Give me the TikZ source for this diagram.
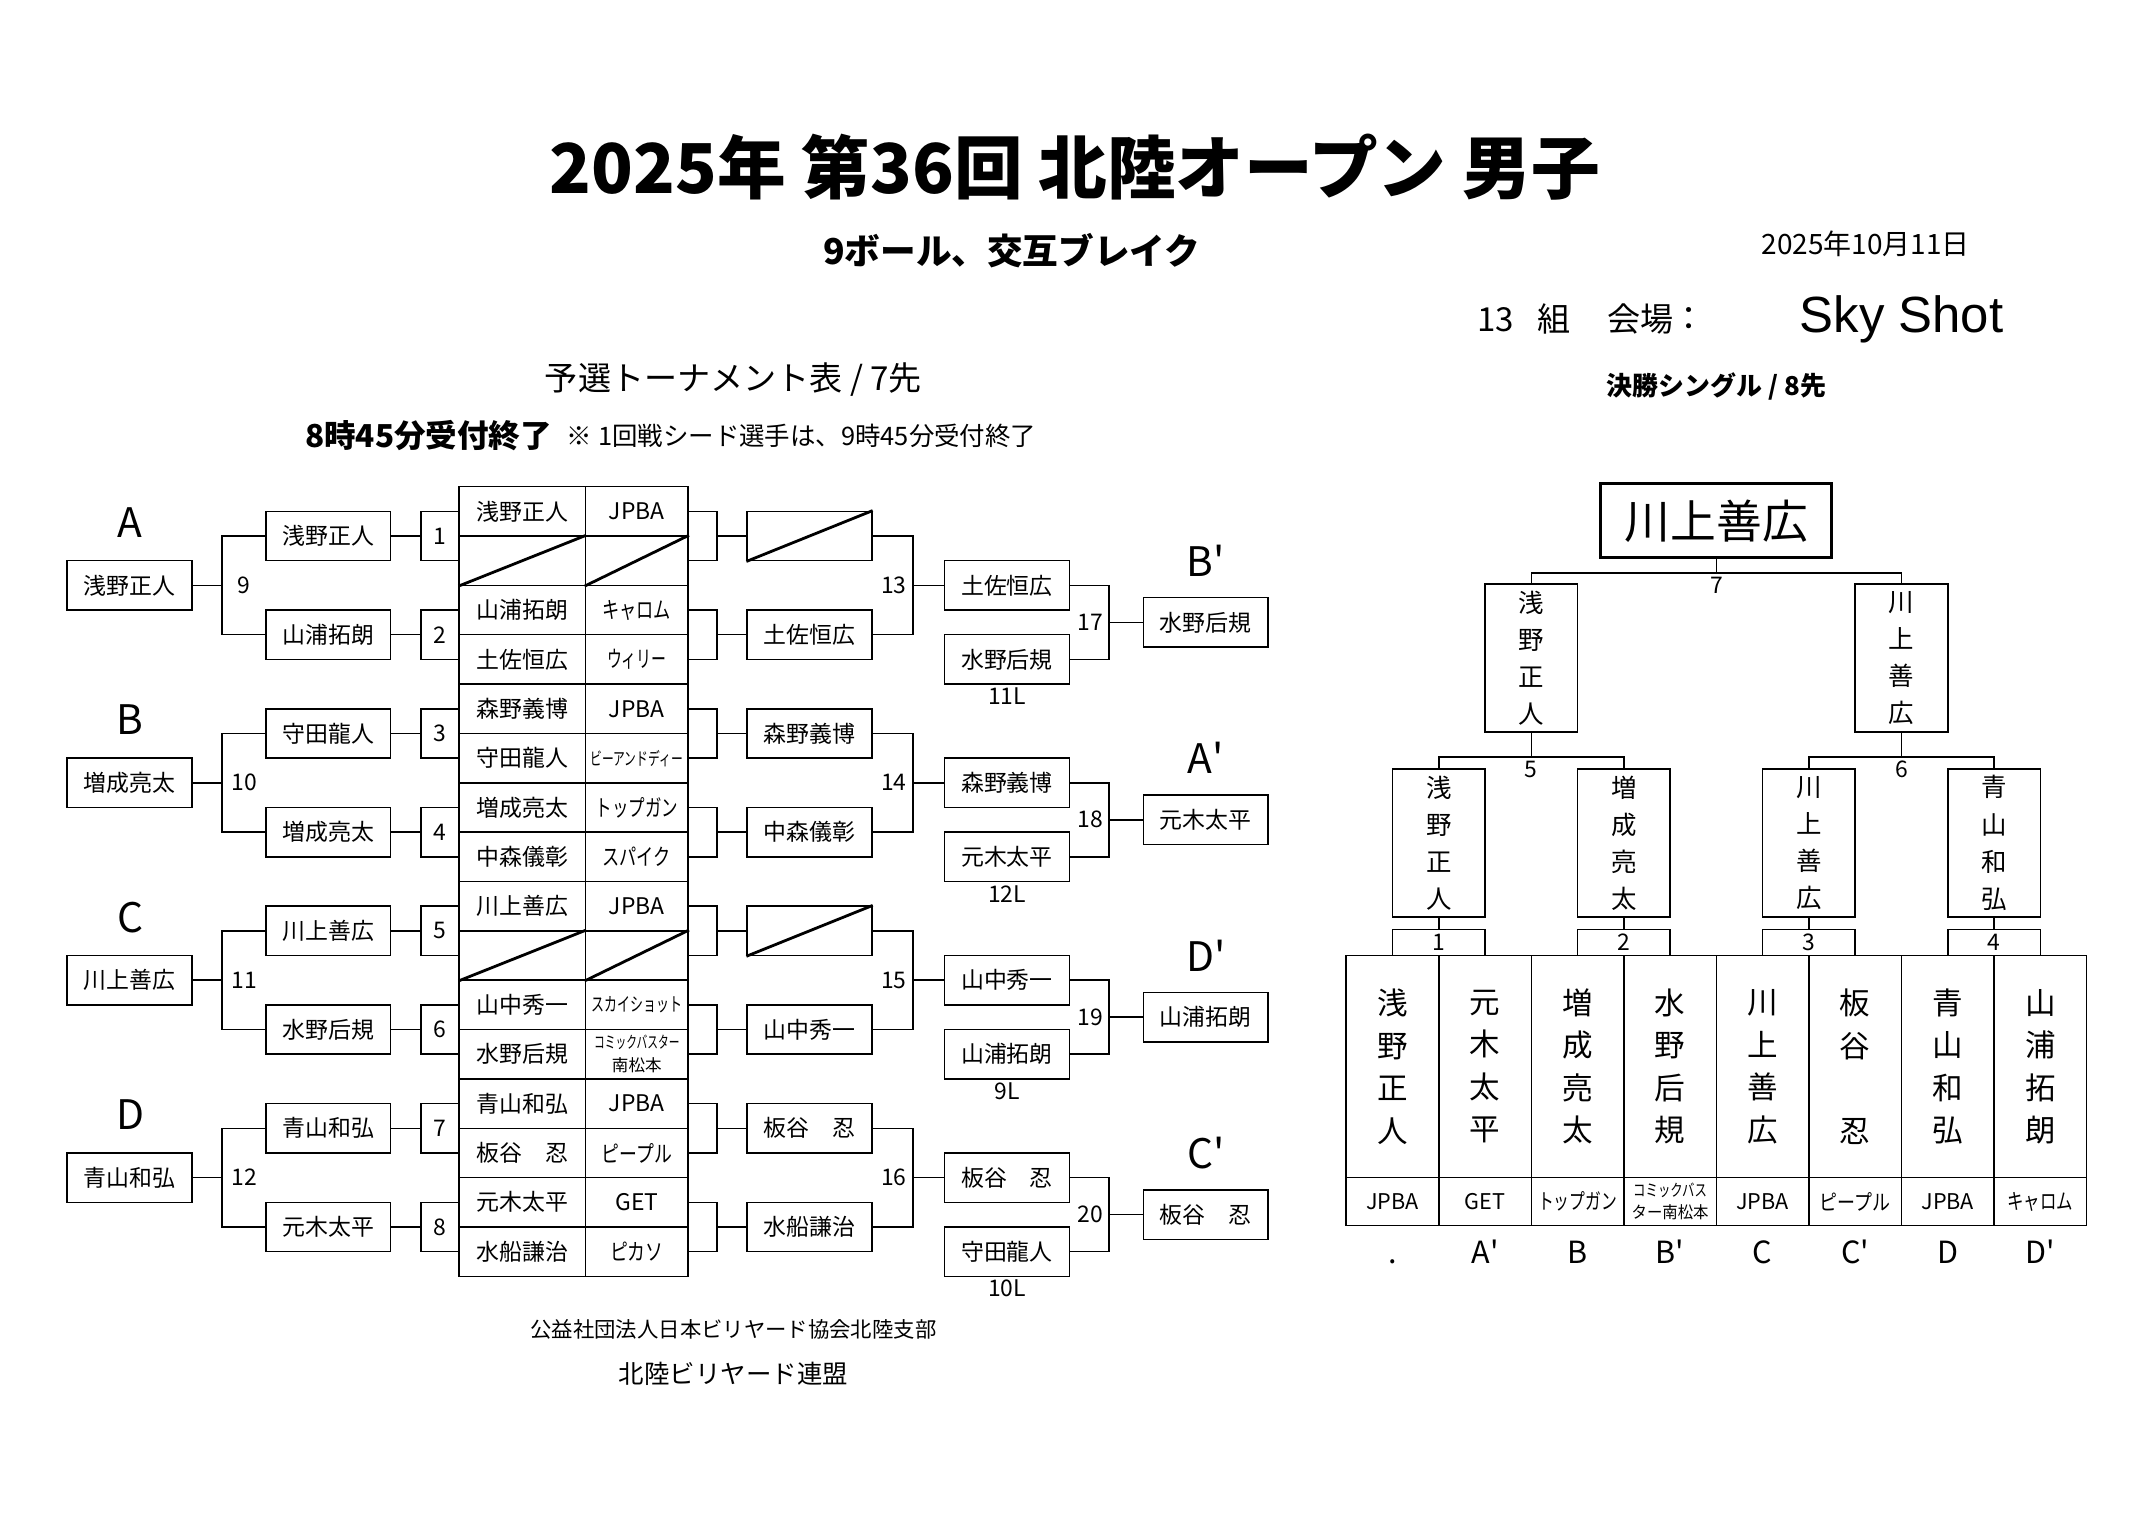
\documentclass[tikz,border=0pt]{standalone}
\usepackage{fontspec}
\usepackage{graphicx}
\setmainfont{Noto Sans CJK JP}
\newfontfamily\skyfont{Liberation Sans}
\newdimen\pxd \pxd=0.018938cm
\newcommand\fs[1]{\fontsize{#1}{#1}\selectfont}
\newcommand\sq[2]{\scalebox{#1}[1]{#2}}
\tikzset{
  pbox/.style={draw, line width=0.6pt, minimum width=91\pxd, minimum height=36\pxd, inner sep=0pt, font=\fs{9}},
  nbox/.style={draw, line width=0.6pt, minimum width=28\pxd, minimum height=36\pxd, inner sep=0pt, font=\fs{9}},
  ncell/.style={draw, line width=0.6pt, minimum width=92\pxd, minimum height=36\pxd, inner sep=0pt, font=\fs{9}},
  acell/.style={draw, line width=0.6pt, minimum width=75\pxd, minimum height=36\pxd, inner sep=0pt, font=\fs{9}, align=center},
  num/.style={inner sep=0pt, font=\fs{9}},
  grp/.style={inner sep=0pt, font=\fs{16}},
  vbox/.style={draw, line width=0.6pt, minimum width=67.5\pxd, minimum height=108\pxd, inner sep=0pt, align=center, font=\fontsize{10}{14.6}\selectfont},
  fcell/.style={draw, line width=0.6pt, minimum width=67.5\pxd, minimum height=162\pxd, inner sep=0pt, align=center, font=\fontsize{12}{16.7}\selectfont},
  facell/.style={draw, line width=0.6pt, minimum width=67.5\pxd, minimum height=35\pxd, inner sep=0pt, align=center, font=\fs{8.5}},
  qnum/.style={draw, line width=0.6pt, minimum width=67.5\pxd, minimum height=19\pxd, inner sep=0pt, font=\fs{9}},
  flab/.style={inner sep=0pt, font=\fs{12}, anchor=base},
  slash/.style={line width=1.1pt},
  txt/.style={inner sep=0pt},
}
\begin{document}
\begin{tikzpicture}[x=0.018938cm, y=-0.018938cm, line width=0.6pt]
\fill[white] (0,0) rectangle (1568.3,1107.3);
\useasboundingbox (0,0) rectangle (1568.3,1107.3);

% ---------- header ----------
\node[txt, font=\fs{27}\bfseries] (title) at (784,122) {2025年 第36回 北陸オープン 男子};
\node[txt, font=\fs{14}\bfseries] (sub) at (738,183) {9ボール、交互ブレイク};
\node[txt, font=\fs{11}] (date) at (1361,178) {2025年10月11日};
\node[txt, font=\fs{13}] (grpno) at (1091,233) {13};
\node[txt, font=\fs{13}] (kumi) at (1133.5,233) {組};
\node[txt, font=\fs{13}] (kaijo) at (1196.5,233) {会場};
\node[txt, font=\fs{13}] (colon) at (1232,233) {：};
\node[txt, font=\skyfont\fs{20}] (sky) at (1387,233) {Sky Shot};
\node[txt, font=\fs{13}] (yosen) at (535,277) {予選トーナメント表 / 7先};
\node[txt, font=\fs{12.4}\bfseries, anchor=west] (uketsuke) at (222,318) {8時45分受付終了};
\node[txt, font=\fs{10}, anchor=west] (note) at (413,318) {※ 1回戦シード選手は、9時45分受付終了};
\node[txt, font=\fs{10.2}\bfseries] (kessho) at (1252,282) {決勝シングル / 8先};
\node[txt, font=\fs{8.4}] (org1) at (535,970) {公益社団法人日本ビリヤード協会北陸支部};
\node[txt, font=\fs{10}] (org2) at (535,1002) {北陸ビリヤード連盟};

% ---------- left groups ----------
\foreach \k/\lt/\nm in {0/A/浅野正人,1/B/増成亮太,2/C/川上善広,3/D/青山和弘}{
  \node[grp] (g\k) at (95,381+144*\k) {\lt};
  \node[pbox] (L\k) at (94.5,427+144*\k) {\nm};
  \pgfmathtruncatemacro\na{9+\k}
  \node[num] (m\k) at (178,427+144*\k) {\na};
}
\foreach \i/\nm in {0/浅野正人,1/山浦拓朗,2/守田龍人,3/増成亮太,4/川上善広,5/水野后規,6/青山和弘,7/元木太平}{
  \node[pbox] (ra\i) at (239.5,391+72*\i) {\nm};
  \pgfmathtruncatemacro\nn{\i+1}
  \node[nbox] (n\i) at (321,391+72*\i) {\nn};
  \draw (ra\i.east) -- (n\i.west);
}
\foreach \k in {0,...,3}{
  \pgfmathtruncatemacro\ia{2*\k}
  \pgfmathtruncatemacro\ib{2*\k+1}
  \coordinate (lb\k) at (162,427+144*\k);
  \draw (L\k.east) -- (lb\k);
  \draw (ra\ia.west) -| (lb\k) |- (ra\ib.west);
}

% ---------- entry table ----------
\node[ncell] (tn0) at (381,373) {浅野正人};   \node[acell] (ta0) at (464.5,373) {JPBA};
\node[ncell] (tn1) at (381,409) {};           \node[acell] (ta1) at (464.5,409) {};
\node[ncell] (tn2) at (381,445) {山浦拓朗};   \node[acell] (ta2) at (464.5,445) {\sq{0.75}{キャロム}};
\node[ncell] (tn3) at (381,481) {土佐恒広};   \node[acell] (ta3) at (464.5,481) {\sq{0.65}{ウィリー}};
\node[ncell] (tn4) at (381,517) {森野義博};   \node[acell] (ta4) at (464.5,517) {JPBA};
\node[ncell] (tn5) at (381,553) {守田龍人};   \node[acell] (ta5) at (464.5,553) {\fs{7}\sq{0.66}{ビーアンドディー}};
\node[ncell] (tn6) at (381,589) {増成亮太};   \node[acell] (ta6) at (464.5,589) {\sq{0.72}{トップガン}};
\node[ncell] (tn7) at (381,625) {中森儀彰};   \node[acell] (ta7) at (464.5,625) {\sq{0.75}{スパイク}};
\node[ncell] (tn8) at (381,661) {川上善広};   \node[acell] (ta8) at (464.5,661) {JPBA};
\node[ncell] (tn9) at (381,697) {};           \node[acell] (ta9) at (464.5,697) {};
\node[ncell] (tn10) at (381,733) {山中秀一};  \node[acell] (ta10) at (464.5,733) {\fs{7.5}\sq{0.68}{スカイショット}};
\node[ncell] (tn11) at (381,769) {水野后規};  \node[acell, font=\fontsize{6.5}{9}\selectfont] (ta11) at (464.5,769) {\sq{0.65}{コミックバスター}\\南松本};
\node[ncell] (tn12) at (381,805) {青山和弘};  \node[acell] (ta12) at (464.5,805) {JPBA};
\node[ncell] (tn13) at (381,841) {板谷　忍};  \node[acell] (ta13) at (464.5,841) {\sq{0.78}{ピープル}};
\node[ncell] (tn14) at (381,877) {元木太平};  \node[acell] (ta14) at (464.5,877) {GET};
\node[ncell] (tn15) at (381,913) {水船謙治};  \node[acell] (ta15) at (464.5,913) {\sq{0.78}{ピカソ}};
\foreach \r in {1,9}{
  \draw[slash] (tn\r.south west) -- (tn\r.north east);
  \draw[slash] (ta\r.south west) -- (ta\r.north east);
}

% ---------- round 2 ----------
\foreach \p/\nm in {0/{},1/土佐恒広,2/森野義博,3/中森儀彰,4/{},5/山中秀一,6/板谷　忍,7/水船謙治}{
  \node[pbox] (sb\p) at (590.5,391+72*\p) {\nm};
}
\draw[slash] (sb0.south west) -- (sb0.north east);
\draw[slash] (sb4.south west) -- (sb4.north east);
\foreach \p in {0,...,7}{
  \pgfmathtruncatemacro\ia{2*\p}
  \pgfmathtruncatemacro\ib{2*\p+1}
  \coordinate (rb\p) at (523,391+72*\p);
  \draw (ta\ia.east) -| (rb\p) |- (ta\ib.east);
  \draw (rb\p) -- (sb\p.west);
}

% ---------- round 3 ----------
\foreach \k/\wa/\wb/\ls in {0/土佐恒広/水野后規/11L,1/森野義博/元木太平/12L,2/山中秀一/山浦拓朗/9L,3/板谷　忍/守田龍人/10L}{
  \node[pbox] (tc\k) at (734.5,427+144*\k) {\wa};
  \node[pbox] (td\k) at (734.5,481+144*\k) {\wb};
  \node[num] (ll\k) at (734.5,508+144*\k) {\ls};
  \pgfmathtruncatemacro\ia{2*\k}
  \pgfmathtruncatemacro\ib{2*\k+1}
  \coordinate (rc\k) at (666,427+144*\k);
  \draw (sb\ia.east) -| (rc\k) |- (sb\ib.east);
  \draw (rc\k) -- (tc\k.west);
  \pgfmathtruncatemacro\nb{13+\k}
  \node[num] (mc\k) at (652,427+144*\k) {\nb};
}

% ---------- qualifiers ----------
\foreach \k/\fn/\fl in {0/水野后規/B,1/元木太平/A,2/山浦拓朗/D,3/板谷　忍/C}{
  \node[pbox] (fb\k) at (879.5,454+144*\k) {\fn};
  \node[grp] (fg\k) at (879.5,409+144*\k) {\fl\textquotesingle};
  \coordinate (rd\k) at (809,454+144*\k);
  \draw (tc\k.east) -| (rd\k) |- (td\k.east);
  \draw (rd\k) -- (fb\k.west);
  \pgfmathtruncatemacro\nd{17+\k}
  \node[num] (md\k) at (795.5,454+144*\k) {\nd};
}

% ---------- final bracket ----------
\node[fcell] (fc0) at (1015.75,778) {浅\\野\\正\\人};
\node[fcell] (fc1) at (1083.25,778) {元\\木\\太\\平};
\node[fcell] (fc2) at (1150.75,778) {増\\成\\亮\\太};
\node[fcell] (fc3) at (1218.25,778) {水\\野\\后\\規};
\node[fcell] (fc4) at (1285.75,778) {川\\上\\善\\広};
\node[fcell] (fc5) at (1353.25,778) {板\\谷\\　\\忍};
\node[fcell] (fc6) at (1420.75,778) {青\\山\\和\\弘};
\node[fcell] (fc7) at (1488.25,778) {山\\浦\\拓\\朗};

\node[facell] (fa0) at (1015.75,876.5) {JPBA};
\node[facell] (fa1) at (1083.25,876.5) {GET};
\node[facell] (fa2) at (1150.75,876.5) {\sq{0.73}{トップガン}};
\node[facell, font=\fontsize{6.5}{8.5}\selectfont] (fa3) at (1218.25,876.5) {\sq{0.75}{コミックバス}\\\sq{0.93}{ター南松本}};
\node[facell] (fa4) at (1285.75,876.5) {JPBA};
\node[facell] (fa5) at (1353.25,876.5) {\sq{0.83}{ピープル}};
\node[facell] (fa6) at (1420.75,876.5) {JPBA};
\node[facell] (fa7) at (1488.25,876.5) {\sq{0.76}{キャロム}};

\node[flab] (fl0) at (1015.75,922) {.};
\node[flab] (fl1) at (1083.25,922) {A\textquotesingle};
\node[flab] (fl2) at (1150.75,922) {B};
\node[flab] (fl3) at (1218.25,922) {B\textquotesingle};
\node[flab] (fl4) at (1285.75,922) {C};
\node[flab] (fl5) at (1353.25,922) {C\textquotesingle};
\node[flab] (fl6) at (1420.75,922) {D};
\node[flab] (fl7) at (1488.25,922) {D\textquotesingle};

\foreach \q/\nm in {1/浅\\野\\正\\人,2/増\\成\\亮\\太,3/川\\上\\善\\広,4/青\\山\\和\\弘}{
  \node[qnum] (qn\q) at (982+67.5*2*\q-67.5,687.5) {\q};
  \node[vbox] (qf\q) at (982+67.5*2*\q-67.5,615) {\nm};
  \draw (qf\q.south) -- (qn\q.north);
}
\node[vbox] (sf1) at (1117,480) {浅\\野\\正\\人};
\node[vbox] (sf2) at (1387,480) {川\\上\\善\\広};
\node[draw, line width=1.2pt, minimum width=168.6\pxd, minimum height=54\pxd, inner sep=0pt, font=\fs{18}] (champ) at (1252,380) {川上善広};

\coordinate (j5) at (1117,552);
\coordinate (j6) at (1387,552);
\coordinate (j7) at (1252,418);
\draw (qf1.north) -- (qf1.north |- j5) -- (qf2.north |- j5) -- (qf2.north);
\draw (sf1.south) -- (j5);
\draw (qf3.north) -- (qf3.north |- j6) -- (qf4.north |- j6) -- (qf4.north);
\draw (sf2.south) -- (j6);
\draw (sf1.north) -- (sf1.north |- j7) -- (sf2.north |- j7) -- (sf2.north);
\draw (champ.south) -- (j7);
\node[num] (l5) at (1117,561) {5};
\node[num] (l6) at (1387,561) {6};
\node[num] (l7) at (1252,427) {7};
\end{tikzpicture}
\end{document}
